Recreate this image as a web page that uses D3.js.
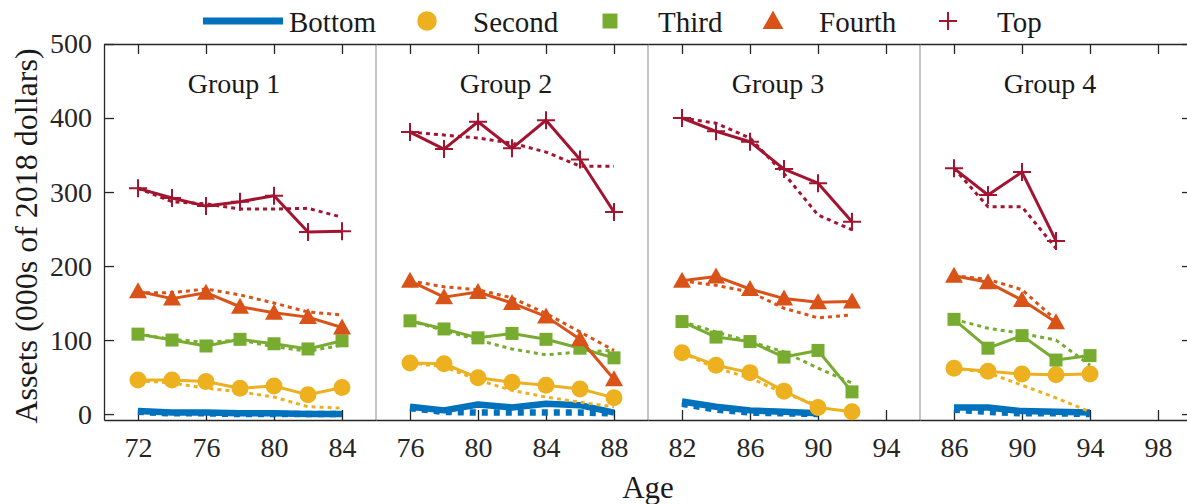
<!DOCTYPE html>
<html>
<head>
<meta charset="utf-8">
<script src="https://cdn.jsdelivr.net/npm/d3@7"></script>
<style>
  body { margin: 0; background: #fff; }
  .axis path, .axis line { stroke: #262626; stroke-width: 1.3; }
</style>
</head>
<body>
<svg width="1187" height="504"></svg>
<script>
// groups and their age windows
const groups = ["Group 1", "Group 2", "Group 3", "Group 4"];
const ageStart = [70, 74, 80, 84];
const ageTicks = [[72, 76, 80, 84], [76, 80, 84, 88], [82, 86, 90, 94], [86, 90, 94, 98]];
const ages = [
    [72, 74, 76, 78, 80, 82, 84],
    [76, 78, 80, 82, 84, 86, 88],
    [82, 84, 86, 88, 90, 92],
    [86, 88, 90, 92, 94]
];
const yTicks = [0, 100, 200, 300, 400, 500];

const quintiles = ["Bottom", "Second", "Third", "Fourth", "Top"];
const colors = ["#0072BD", "#EDB120", "#77AC30", "#D95319", "#A2142F"];

// data (solid, with markers) per group
const dataBottom = [[4, 2, 2, 1, 1, 0, 0], [10, 5, 13, 9, 14, 12, 2], [17, 10, 5, 3, 1], [9, 9, 4, 3, 2]];
const dataSecond = [[46, 46, 44, 35, 38, 26, 36], [69, 68, 49, 43, 39, 34, 22], [83, 66, 56, 31, 9, 3], [62, 58, 54, 53, 54]];
const dataThird = [[108, 100, 92, 101, 95, 88, 99], [126, 115, 103, 109, 101, 89, 76], [125, 104, 98, 77, 86, 30], [128, 89, 106, 73, 79]];
const dataFourth = [[166, 156, 164, 145, 137, 131, 117], [180, 158, 165, 150, 132, 101, 47], [180, 186, 169, 156, 151, 152], [187, 178, 154, 124]];
const dataTop = [[305, 292, 281, 287, 295, 246, 247], [381, 358, 395, 359, 397, 344, 273], [400, 382, 368, 331, 312, 260], [332, 296, 327, 234]];

// model (dotted) per group
const modelBottom = [[3, 1, 1, 0, 0, 0, 0], [8, 3, 2, 2, 2, 2, 1], [14, 6, 2, 1, 0], [6, 3, 1, 1, 0]];
const modelSecond = [[45, 42, 35, 30, 23, 10, 8], [69, 64, 46, 32, 23, 16, 10], [83, 62, 49, 28, 12], [62, 56, 39, 22, 3]];
const modelThird = [[108, 101, 97, 100, 91, 85, 93], [126, 113, 100, 88, 80, 84, 86], [125, 111, 98, 84, 62, 42], [128, 116, 109, 100, 66]];
const modelFourth = [[164, 164, 169, 161, 150, 138, 134], [180, 172, 168, 157, 136, 111, 86], [180, 174, 165, 143, 130, 134], [187, 182, 168, 127]];
const modelTop = [[305, 287, 284, 277, 277, 278, 266], [381, 377, 373, 366, 354, 335, 335], [400, 393, 373, 325, 269, 249], [332, 280, 280, 224]];

const dataAll = [dataBottom, dataSecond, dataThird, dataFourth, dataTop];
const modelAll = [modelBottom, modelSecond, modelThird, modelFourth, modelTop];

const FONT = '"Liberation Serif", "Times New Roman", "DejaVu Serif", serif';

let svg = d3.select('svg');
let margin = { left: 104, top: 44, right: 1192, bottom: 420 };

let panelScale = d3.scaleBand()
    .domain(groups)
    .range([margin.left, margin.right]);
let pw = panelScale.bandwidth();

let yScale = d3.scaleLinear()
    .domain([-8, 500])
    .range([margin.bottom, margin.top]);

// marker shapes
const triangle = "M0,-10L9,6L-9,6Z";
const plus = "M-9,0H9M0,-9V9";

function drawMarker(sel, q, x, y, big) {
    let c = colors[q];
    let s = big ? 1.15 : 1;
    if (q == 1) {
        sel.append('circle').attr('cx', x).attr('cy', y).attr('r', 8.5 * s).style('fill', c);
    } else if (q == 2) {
        let h = 6.5 * s;
        sel.append('rect').attr('x', x - h).attr('y', y - h).attr('width', 2 * h).attr('height', 2 * h).style('fill', c);
    } else if (q == 3) {
        sel.append('path').attr('d', triangle)
            .attr('transform', 'translate(' + x + ',' + (y + 1) + ') scale(' + s + ')')
            .style('fill', c);
    } else if (q == 4) {
        sel.append('path').attr('d', plus)
            .attr('transform', 'translate(' + x + ',' + y + ')')
            .style('stroke', c).style('stroke-width', 2).style('fill', 'none');
    }
}

function styleAxis(g) {
    g.attr('font-family', null).attr('font-size', null);
    g.selectAll('text')
        .style('font-family', FONT)
        .style('font-size', '28px')
        .style('fill', '#262626');
}

function addText(x, y, str, anchor, size) {
    return svg.append('text')
        .attr('x', x)
        .attr('y', y)
        .attr('text-anchor', anchor)
        .style('font-family', FONT)
        .style('font-size', size + 'px')
        .style('fill', '#1a1a1a')
        .text(str);
}

// separators between panels
groups.slice(1).forEach(function (g) {
    svg.append('line')
        .attr('x1', panelScale(g)).attr('x2', panelScale(g))
        .attr('y1', margin.top).attr('y2', margin.bottom)
        .style('stroke', '#a6a6a6').style('stroke-width', 1.3);
});

groups.forEach(function (g, i) {
    let x0 = panelScale(g);
    let xScale = d3.scaleLinear()
        .domain([ageStart[i], ageStart[i] + 16])
        .range([x0, x0 + pw]);

    // axes
    svg.append('g')
        .attr('class', 'axis')
        .attr('transform', 'translate(0,' + margin.bottom + ')')
        .call(d3.axisBottom(xScale).tickValues(ageTicks[i]).tickSizeInner(-10).tickSizeOuter(0).tickPadding(17))
        .call(styleAxis);
    svg.append('g')
        .attr('class', 'axis')
        .attr('transform', 'translate(0,' + margin.top + ')')
        .call(d3.axisTop(xScale).tickValues(ageTicks[i]).tickSizeInner(-10).tickSizeOuter(0).tickFormat(''));

    // group title
    addText(x0 + pw / 2 - 6, 93, g, 'middle', 28);

    let line = d3.line()
        .x((d, j) => xScale(ages[i][j]))
        .y(d => yScale(d));

    let pg = svg.append('g');
    quintiles.forEach(function (qn, q) {
        let w = q == 0 ? 6.5 : 3;
        // model (dotted)
        pg.append('path')
            .attr('d', line(modelAll[q][i]))
            .style('fill', 'none')
            .style('stroke', colors[q])
            .style('stroke-width', w)
            .style('stroke-dasharray', q == 0 ? '6,6' : '4,4');
        // data (solid)
        pg.append('path')
            .attr('d', line(dataAll[q][i]))
            .style('fill', 'none')
            .style('stroke', colors[q])
            .style('stroke-width', w)
            .style('stroke-linejoin', 'round');
        dataAll[q][i].forEach(function (v, j) {
            drawMarker(pg, q, xScale(ages[i][j]), yScale(v), false);
        });
    });
});

// y axes
svg.append('g')
    .attr('class', 'axis')
    .attr('transform', 'translate(' + margin.left + ',0)')
    .call(d3.axisLeft(yScale).tickValues(yTicks).tickSizeInner(-10).tickSizeOuter(0).tickPadding(12))
    .call(styleAxis);
svg.append('g')
    .attr('class', 'axis')
    .attr('transform', 'translate(' + margin.right + ',0)')
    .call(d3.axisRight(yScale).tickValues(yTicks).tickSizeInner(-10).tickSizeOuter(0).tickFormat(''));

// axis labels
addText(648, 498, 'Age', 'middle', 31);
addText(0, 0, 'Assets (000s of 2018 dollars)', 'middle', 32)
    .attr('transform', 'translate(37,236) rotate(-90)');

// legend
const legendX = [243, 427, 610, 773, 948];
const legendTextX = [289, 473, 658, 819, 997];
let lg = svg.append('g');
quintiles.forEach(function (qn, q) {
    if (q == 0) {
        lg.append('line')
            .attr('x1', 203).attr('x2', 283)
            .attr('y1', 21).attr('y2', 21)
            .style('stroke', colors[0]).style('stroke-width', 7);
    } else {
        drawMarker(lg, q, legendX[q], 21, true);
    }
    addText(legendTextX[q], 32, qn, 'start', 29);
});
</script>
</body>
</html>
